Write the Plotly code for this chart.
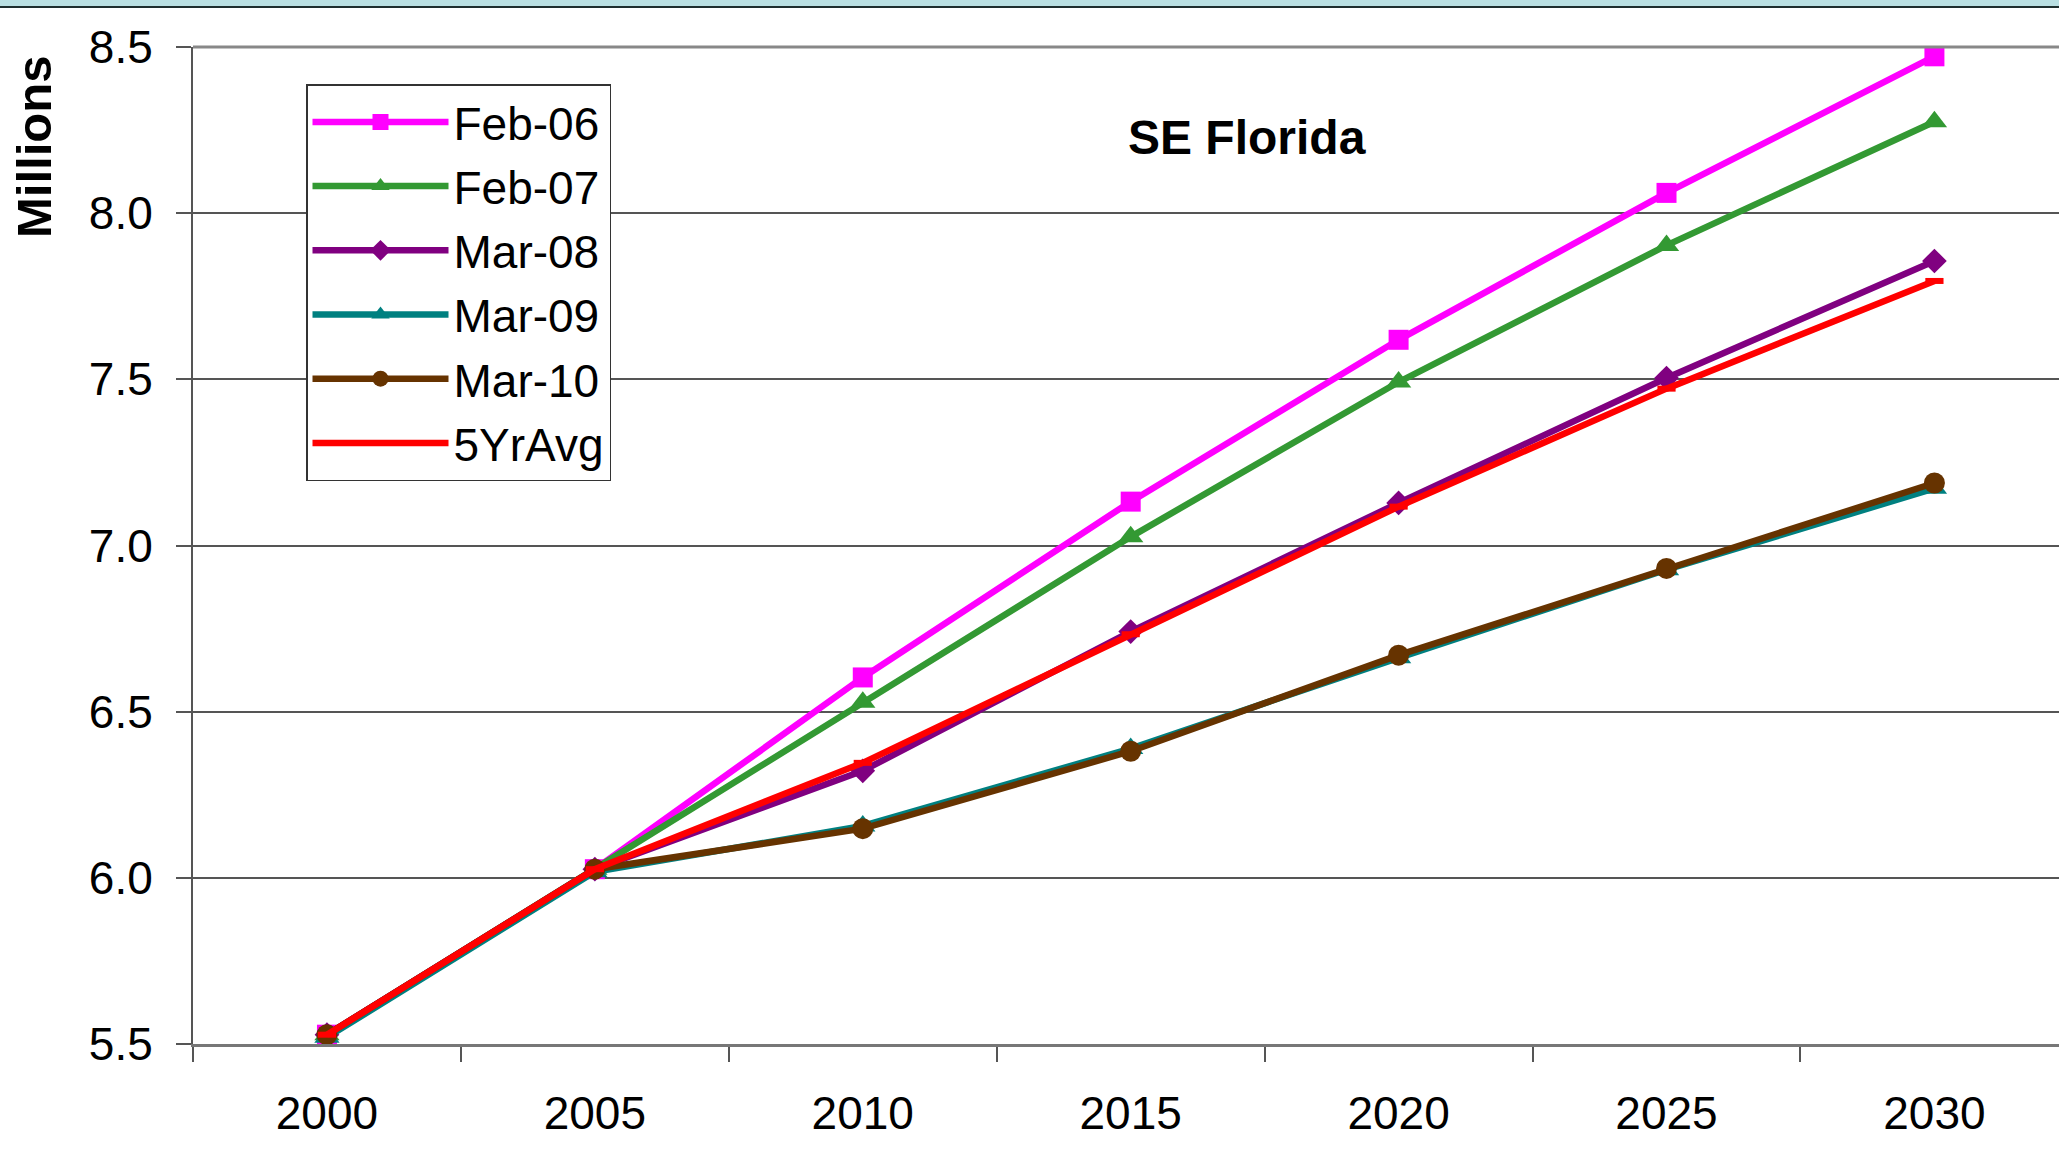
import plotly.graph_objects as go

years = ["2000", "2005", "2010", "2015", "2020", "2025", "2030"]
feb06 = [5.528, 6.026, 6.603, 7.132, 7.619, 8.061, 8.472]
feb07 = [5.528, 6.026, 6.528, 7.026, 7.492, 7.903, 8.275]
mar08 = [5.528, 6.026, 6.322, 6.741, 7.128, 7.504, 7.856]
mar09 = [5.520, 6.018, 6.156, 6.389, 6.662, 6.927, 7.172]
mar10 = [5.528, 6.026, 6.148, 6.381, 6.670, 6.931, 7.188]
avg5 = [5.528, 6.026, 6.346, 6.733, 7.117, 7.472, 7.796]

series = [
    ("Feb-06", feb06, "#FF00FF", "square", 20),
    ("Feb-07", feb07, "#339933", "triangle-up", 22),
    ("Mar-08", mar08, "#800080", "diamond", 19),
    ("Mar-09", mar09, "#008080", "triangle-up", 22),
    ("Mar-10", mar10, "#663300", "circle", 21),
    ("5YrAvg", avg5, "#FF0000", "line-ew-open", 13),
]

W, H = 2059, 1155
L, R, T, B = 193, 0, 47, 111
ph = H - T - B

fig = go.Figure()
for i, (name, vals, col, sym, sz) in enumerate(series):
    marker = dict(symbol=sym, size=sz, color=col)
    if sym == "line-ew-open":
        marker["line"] = dict(color=col, width=6)
    fig.add_trace(go.Scatter(
        x=years, y=vals, name=name, mode="lines+markers",
        line=dict(color=col, width=6.5),
        marker=marker, legendgroup=name,
    ))

font = "Liberation Sans, Arial, sans-serif"

fig.update_layout(
    width=W, height=H,
    margin=dict(l=L, r=R, t=T, b=B, pad=0),
    paper_bgcolor="white", plot_bgcolor="white",
    font=dict(family=font, color="black", size=46),
    showlegend=True,
    legend=dict(
        x=(306 - L) / (W - L), y=1 - (84 - T) / ph,
        xanchor="left", yanchor="top",
        bordercolor="#333333", borderwidth=1.5, bgcolor="white",
        font=dict(size=46, family=font),
        traceorder="grouped", tracegroupgap=1.4,
        itemwidth=136,
    ),
    xaxis=dict(
        type="category", range=[-0.5, 6.465],
        showgrid=False, showline=True, linecolor="#777777", linewidth=3,
        ticks="outside", tickson="boundaries", ticklen=15, tickcolor="#555555", tickwidth=1.5,
        tickfont=dict(size=46, family=font), ticklabelstandoff=27,
        zeroline=False, fixedrange=True,
    ),
    yaxis=dict(
        range=[5.5, 8.5], dtick=0.5, tick0=5.5, tickformat=".1f",
        showgrid=True, gridcolor="#555555", gridwidth=1.5,
        showline=True, linecolor="#555555", linewidth=2,
        ticks="outside", ticklen=15, tickcolor="#555555", tickwidth=1.5,
        tickfont=dict(size=46, family=font), ticklabelstandoff=14,
        zeroline=False,
    ),
    shapes=[
        dict(type="line", xref="paper", yref="paper", x0=0, x1=1, y0=1, y1=1,
             line=dict(color="#888888", width=3)),
        dict(type="rect", xref="paper", yref="paper", x0=-L / (W - L), x1=1.01,
             y0=1 + (T - 6.5) / ph, y1=1 + (T + 2) / ph,
             fillcolor="#B9DFE2", line=dict(width=0), layer="above"),
        dict(type="line", xref="paper", yref="paper", x0=-L / (W - L), x1=1.01,
             y0=1 + (T - 7) / ph, y1=1 + (T - 7) / ph,
             line=dict(color="#1E2E2E", width=2)),
    ],
    annotations=[
        dict(text="<b>SE Florida</b>", xref="paper", yref="paper",
             x=(1247 - L) / (W - L), y=1 - (137 - T) / ph,
             xanchor="center", yanchor="middle", showarrow=False,
             font=dict(size=48, family=font, color="black")),
        dict(text="<b>Millions</b>", xref="paper", yref="paper",
             x=(34 - L) / (W - L), y=1 - (147 - T) / ph,
             xanchor="center", yanchor="middle", showarrow=False, textangle=-90,
             font=dict(size=49, family=font, color="black")),
    ],
)

fig.write_html(
    "out.html",
    config={"displayModeBar": False},
    post_script="document.body.style.margin='0';document.body.style.overflow='hidden';",
)
